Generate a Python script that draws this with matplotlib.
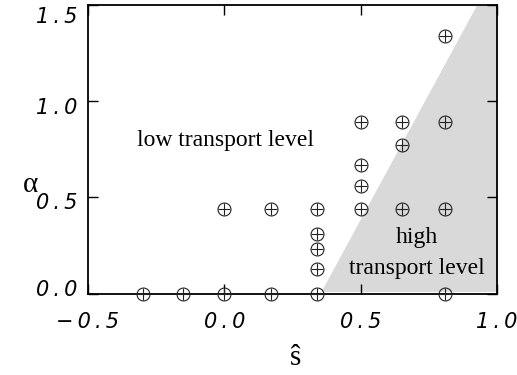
import matplotlib
matplotlib.use("Agg")
import matplotlib.pyplot as plt
import matplotlib.transforms as mtransforms

# data
s_hat = [-0.30, -0.15, 0.00, 0.17, 0.34, 0.81,
         0.00, 0.17, 0.34, 0.50, 0.65, 0.81,
         0.34, 0.34, 0.34,
         0.50, 0.50,
         0.50, 0.65, 0.81,
         0.65, 0.81]
alpha = [0.00, 0.00, 0.00, 0.00, 0.00, 0.00,
         0.44, 0.44, 0.44, 0.44, 0.44, 0.44,
         0.13, 0.23, 0.31,
         0.56, 0.67,
         0.89, 0.89, 0.89,
         0.77, 1.34]
boundary_s = [0.35, 0.925, 1.0]
boundary_alpha = [0.0, 1.5, 1.5]
xticks = [-0.5, 0.0, 0.5, 1.0]
yticks = [0.0, 0.5, 1.0, 1.5]

TS = "\u2009"


def spaced(txt):
    return TS.join(list(txt))


fig = plt.figure(figsize=(5.17, 3.75), dpi=100)
ax = fig.add_axes([0.1702, 0.2168, 0.7911, 0.7699])

# shaded high-transport region
ax.fill_between(boundary_s, [0.012] * len(boundary_s), boundary_alpha,
                color="#d9d9d9", linewidth=0, zorder=1)

ax.plot(s_hat, alpha, linestyle="none", marker="o", markersize=9.3,
        markerfacecolor="none", markeredgecolor="#222222", markeredgewidth=0.8,
        zorder=3, clip_on=False)
ax.plot(s_hat, alpha, linestyle="none", marker="+", markersize=9.3,
        markeredgecolor="#222222", markeredgewidth=0.8, zorder=3, clip_on=False)

ax.set_xlim(-0.5, 1.0)
ax.set_ylim(0.0, 1.5)
ax.set_xticks(xticks)
ax.set_yticks(yticks)
ax.set_xticklabels([spaced(f"{v:.1f}".replace("-", "\u2212")) for v in xticks],
                   fontstyle="italic", fontsize=15, family="DejaVu Sans")
ax.set_yticklabels([spaced(f"{v:.1f}") for v in yticks],
                   fontstyle="italic", fontsize=15, family="DejaVu Sans")
ax.tick_params(axis="both", direction="in", length=7, width=1.0,
               top=True, right=True)
ax.tick_params(axis="x", pad=13)
ax.tick_params(axis="y", pad=8)
for sp in ax.spines.values():
    sp.set_linewidth(1.3)

# per-label vertical offsets (pixels, positive = up) to mimic the reference
y_offsets = [6, -4, -5, -10]
for lab, dy in zip(ax.get_yticklabels(), y_offsets):
    lab.set_transform(lab.get_transform() +
                      mtransforms.ScaledTranslation(0, dy / 100, fig.dpi_scale_trans))

ax.text(0.005, 0.795, "low transport level", family="Liberation Serif",
        fontsize=17, ha="center", va="center", zorder=4)
ax.text(0.705, 0.29, "high", family="Liberation Serif",
        fontsize=17, ha="center", va="center", zorder=4)
ax.text(0.705, 0.13, "transport level", family="Liberation Serif",
        fontsize=17, ha="center", va="center", zorder=4)

fig.text(30 / 517, 1 - 185 / 375, "\u03b1", family="Liberation Serif",
         fontsize=21, ha="center", va="center")
fig.text(296 / 517, 1 - 358 / 375, "\u015d", family="Liberation Serif",
         fontsize=21, ha="center", va="center")

fig.savefig("out.png", dpi=100)
